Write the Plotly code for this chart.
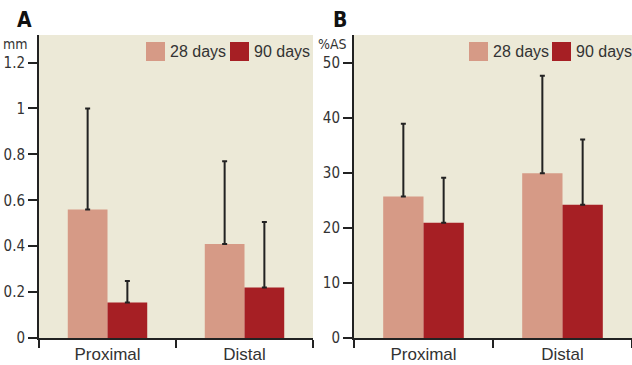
import plotly.graph_objects as go

W, H = 632, 365

categories = ["Proximal", "Distal"]
series_names = ["28 days", "90 days"]
colors = ["#D69A86", "#A61F24"]

# Panel A (mm)
a_means_28 = [0.56, 0.41]
a_sd_28 = [0.44, 0.36]
a_means_90 = [0.155, 0.22]
a_sd_90 = [0.093, 0.285]
a_ticks = [0, 0.2, 0.4, 0.6, 0.8, 1, 1.2]
a_ticktext = ["0", "0.2", "0.4", "0.6", "0.8", "1", "1.2"]

# Panel B (%AS)
b_means_28 = [25.7, 29.9]
b_sd_28 = [13.2, 17.7]
b_means_90 = [20.9, 24.2]
b_sd_90 = [8.2, 11.85]
b_ticks = [0, 10, 20, 30, 40, 50]

BG = "#ECE9D7"
AX = "#222222"
TXT = "#333333"
NARROW = "Liberation Sans Narrow, DejaVu Sans Condensed, Arial Narrow, sans-serif"
SANS = "Liberation Sans, Arial, sans-serif"


def px(x):
    return x / W


def py(y):
    return 1 - y / H


fig = go.Figure()


def add_bars(xa, ya, m28, s28, m90, s90):
    for m, s, c, n in [(m28, s28, colors[0], series_names[0]), (m90, s90, colors[1], series_names[1])]:
        fig.add_trace(go.Bar(
            x=categories, y=m, name=n, marker=dict(color=c, line=dict(width=0)),
            error_y=dict(type="data", symmetric=False, array=s, arrayminus=[0] * len(s),
                         color=AX, thickness=2, width=2.5),
            xaxis=xa, yaxis=ya, showlegend=False,
        ))


add_bars("x", "y", a_means_28, a_sd_28, a_means_90, a_sd_90)
add_bars("x2", "y2", b_means_28, b_sd_28, b_means_90, b_sd_90)

ydom = [py(338), py(35)]
xaxis_common = dict(
    type="category", showline=True, linecolor=AX, linewidth=2, ticks="outside",
    tickson="boundaries", ticklen=8, tickwidth=1.5, tickcolor=AX,
    tickfont=dict(family=SANS, size=17, color=TXT), showgrid=False, zeroline=False,
    range=[-0.5, 1.5], fixedrange=True, automargin=False,
)
yaxis_common = dict(
    showline=True, linecolor=AX, linewidth=2, ticks="outside", ticklen=9, tickwidth=1.5,
    tickcolor=AX, tickfont=dict(family=NARROW, size=15, color=TXT), showgrid=False,
    zeroline=False, domain=ydom, fixedrange=True, automargin=False,
)

fig.update_layout(
    template="none",
    width=W, height=H,
    margin=dict(l=0, r=0, t=0, b=0, pad=0),
    paper_bgcolor="white",
    plot_bgcolor=BG,
    barmode="group", bargap=0.42, bargroupgap=0,
    xaxis=dict(xaxis_common, domain=[px(39), px(313)], anchor="y"),
    xaxis2=dict(xaxis_common, domain=[px(354), 1.0], anchor="y2"),
    yaxis=dict(yaxis_common, range=[0, 1.32], tickvals=a_ticks, ticktext=a_ticktext, anchor="x"),
    yaxis2=dict(yaxis_common, range=[0, 55], tickvals=b_ticks, anchor="x2"),
)

shapes = []
annotations = []

# Manual legends (paper coords)
legend_layout = [
    (146, 168, 230, 252),
    (469, 491, 552, 574),
]
for sw1, t1, sw2, t2 in legend_layout:
    for sx, tx, c, n in [(sw1, t1, colors[0], series_names[0]), (sw2, t2, colors[1], series_names[1])]:
        shapes.append(dict(type="rect", xref="paper", yref="paper",
                           x0=px(sx), x1=px(sx + 19), y0=py(61), y1=py(42),
                           fillcolor=c, line=dict(width=0)))
        annotations.append(dict(text=n, xref="paper", yref="paper", x=px(tx), y=py(51.5),
                                xanchor="left", yanchor="middle", showarrow=False,
                                font=dict(family=SANS, size=16, color=TXT)))

# Panel letters
for lx, t in [(24, "A"), (340, "B")]:
    annotations.append(dict(text="<b>%s</b>" % t, xref="paper", yref="paper", x=px(lx), y=py(20),
                            xanchor="center", yanchor="middle", showarrow=False,
                            font=dict(family=NARROW, size=21, color="#111111")))

# Units
for ux, t in [(30, "mm"), (349, "%AS")]:
    annotations.append(dict(text=t, xref="paper", yref="paper", x=px(ux), y=py(44),
                            xanchor="right", yanchor="middle", showarrow=False,
                            font=dict(family=NARROW, size=14, color=TXT)))

fig.update_layout(shapes=shapes, annotations=annotations)

fig.write_html("out.html", config={"displayModeBar": False},
               post_script="document.body.style.margin='0';document.body.style.padding='0';")
